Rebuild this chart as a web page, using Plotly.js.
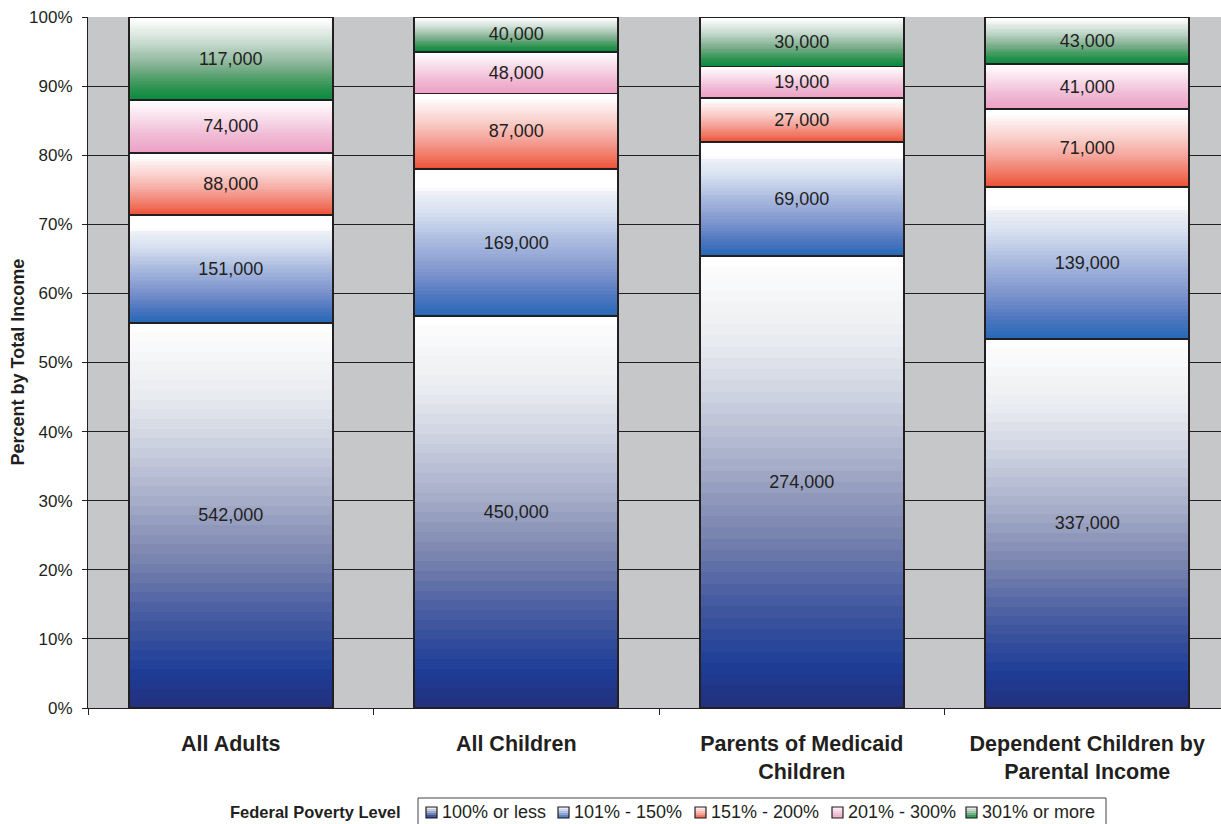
<!DOCTYPE html>
<html>
<head>
<meta charset="utf-8">
<script src="https://cdn.plot.ly/plotly-3.0.1.min.js"></script>
<style>html,body{margin:0;padding:0;background:#fff;}#chart{width:1221px;height:824px;}</style>
</head>
<body>
<div id="chart"></div>
<script>
// ---- data ----
const categories = ['All Adults', 'All Children', 'Parents of Medicaid<br>Children', 'Dependent Children by<br>Parental Income'];
const seriesNames = ['100% or less', '101% - 150%', '151% - 200%', '201% - 300%', '301% or more'];
const fpl100orLess = [542000, 450000, 274000, 337000];
const fpl101to150 = [151000, 169000, 69000, 139000];
const fpl151to200 = [88000, 87000, 27000, 71000];
const fpl201to300 = [74000, 48000, 19000, 41000];
const fpl301orMore = [117000, 40000, 30000, 43000];
const seriesValues = [fpl100orLess, fpl101to150, fpl151to200, fpl201to300, fpl301orMore];
const legendTitle = 'Federal Poverty Level';
const yTitle = 'Percent by Total Income';

// ---- styles: gradient stops (fraction from bottom of segment -> colour) ----
const gradients = [
  [[0, '#22307e'], [0.1, '#1f3e97'], [0.25, '#4a5ea2'], [0.4, '#7d87b0'], [0.55, '#a9b0cb'], [0.7, '#d0d5e2'], [0.82, '#eaecf0'], [0.92, '#f6f7f8'], [1, '#ffffff']],
  [[0, '#2569b5'], [0.12, '#4a74be'], [0.3, '#7e95cd'], [0.5, '#a8b9de'], [0.7, '#d6dff0'], [0.84, '#edf0f6'], [0.87, '#ffffff'], [1, '#ffffff']],
  [[0, '#ee4d33'], [0.15, '#f0735e'], [0.4, '#f5a69c'], [0.65, '#fad2cf'], [0.85, '#fcefee'], [0.93, '#ffffff'], [1, '#ffffff']],
  [[0, '#eca0c5'], [0.35, '#f1bcd6'], [0.65, '#f8dce9'], [0.88, '#fdf4f8'], [1, '#ffffff']],
  [[0, '#078b40'], [0.15, '#2c9350'], [0.4, '#7eaf8e'], [0.65, '#bfd6c8'], [0.85, '#e8efeb'], [0.94, '#fbfcfb'], [1, '#ffffff']]
];
const NSLICES = 40;
// layout positions (pixels in the figure)
const legendSymbolX = [426, 558, 695, 832, 966];
const legendBox = { left: 418, right: 1106, top: 798 };
const PLOT_L = 88, PLOT_W = 1133, PLOT_B = 708, PLOT_H = 691;
const px2x = px => (px - PLOT_L) / PLOT_W;
const px2y = py => (PLOT_B - py) / PLOT_H;

function hexToRgb(h) { return [parseInt(h.substr(1,2),16), parseInt(h.substr(3,2),16), parseInt(h.substr(5,2),16)]; }
function gradColor(stops, t) {
  for (let i = 1; i < stops.length; i++) {
    if (t <= stops[i][0]) {
      const a = stops[i-1], b = stops[i];
      const f = (t - a[0]) / (b[0] - a[0] || 1);
      const ca = hexToRgb(a[1]), cb = hexToRgb(b[1]);
      const c = ca.map((v, j) => Math.round(v + (cb[j] - v) * f));
      return 'rgb(' + c.join(',') + ')';
    }
  }
  return stops[stops.length-1][1];
}

const font = 'Liberation Sans, Arial, Helvetica, sans-serif';
const ink = '#231f20';
const traces = [];
// gradient slices (main axes)
seriesValues.forEach((vals, s) => {
  for (let k = 0; k < NSLICES; k++) {
    traces.push({
      type: 'bar', x: categories, y: vals.map(v => v / NSLICES), name: seriesNames[s],
      marker: { color: gradColor(gradients[s], (k + 0.5) / NSLICES), line: { width: 0 } },
      showlegend: false, hoverinfo: 'skip', xaxis: 'x', yaxis: 'y'
    });
  }
});
// outlines + value labels (overlay axes)
seriesValues.forEach((vals, s) => {
  traces.push({
    type: 'bar', x: categories, y: vals, name: seriesNames[s],
    text: vals.map(v => v.toLocaleString('en-US')),
    textposition: 'inside', insidetextanchor: 'middle', textangle: 0, constraintext: 'none',
    textfont: { family: font, size: 18, color: ink },
    marker: { color: 'rgba(0,0,0,0)', line: { color: ink, width: 1.8 } },
    showlegend: false, hoverinfo: 'skip', xaxis: 'x2', yaxis: 'y2'
  });
});

// manual legend (title outside a bordered box, small gradient squares)
const shapes = [{
  type: 'rect', xref: 'paper', yref: 'paper', layer: 'above',
  x0: px2x(legendBox.left), x1: px2x(legendBox.right), y0: px2y(legendBox.top), y1: px2y(840),
  line: { color: '#444', width: 1 }, fillcolor: 'rgba(0,0,0,0)'
}];
const annotations = [{
  text: legendTitle, xref: 'paper', yref: 'paper', x: px2x(403), xanchor: 'right',
  y: px2y(812), yanchor: 'middle', showarrow: false,
  font: { family: font, size: 16.5, color: ink, weight: 'bold' }
}, {
  text: yTitle, xref: 'paper', yref: 'paper', x: px2x(5), xanchor: 'left',
  y: 0.5, yanchor: 'middle', textangle: -90, showarrow: false,
  font: { family: font, size: 18, color: ink, weight: 'bold' }
}];
const SYM = 11, SYM_TOP = 807, BANDS = 6;
seriesNames.forEach((nm, s) => {
  const sx = legendSymbolX[s];
  for (let b = 0; b < BANDS; b++) {
    shapes.push({
      type: 'rect', xref: 'paper', yref: 'paper', layer: 'above',
      x0: px2x(sx), x1: px2x(sx + SYM),
      y0: px2y(SYM_TOP + SYM - b * SYM / BANDS), y1: px2y(SYM_TOP + SYM - (b + 1) * SYM / BANDS),
      line: { width: 0 }, fillcolor: gradColor(gradients[s], 0.05 + 0.75 * b / (BANDS - 1))
    });
  }
  shapes.push({
    type: 'rect', xref: 'paper', yref: 'paper', layer: 'above',
    x0: px2x(sx), x1: px2x(sx + SYM), y0: px2y(SYM_TOP + SYM), y1: px2y(SYM_TOP),
    line: { color: ink, width: 1.2 }, fillcolor: 'rgba(0,0,0,0)'
  });
  annotations.push({
    text: nm, xref: 'paper', yref: 'paper', x: px2x(sx + 14), xanchor: 'left',
    y: px2y(812), yanchor: 'middle', showarrow: false,
    font: { family: font, size: 18, color: ink }
  });
});

const xr = [-0.5, 3.4685];
const layout = {
  width: 1221, height: 824,
  margin: { l: PLOT_L, r: 0, t: 17, b: 824 - PLOT_B },
  paper_bgcolor: '#ffffff', plot_bgcolor: '#c6c7c9',
  barmode: 'stack', barnorm: 'percent', bargap: 0.285,
  font: { family: font, color: ink },
  showlegend: false,
  xaxis: {
    type: 'category', range: xr, automargin: false, showline: true, linecolor: ink, linewidth: 1,
    ticks: 'outside', tickson: 'boundaries', ticklen: 6, tickcolor: ink,
    showgrid: false, zeroline: false, ticklabelstandoff: 16,
    tickfont: { family: font, size: 21.5, color: ink, weight: 'bold' }
  },
  yaxis: {
    range: [0, 100], dtick: 10, ticksuffix: '%', automargin: false, showline: true, linecolor: ink, linewidth: 1,
    ticks: 'outside', ticklen: 5, tickcolor: ink, showgrid: true, gridcolor: ink, gridwidth: 1,
    zeroline: false, ticklabelstandoff: 6, tickfont: { family: font, size: 17, color: ink }
  },
  xaxis2: { type: 'category', overlaying: 'x', range: xr, visible: false },
  yaxis2: { overlaying: 'y', range: [0, 100], visible: false },
  shapes: shapes,
  annotations: annotations
};

Plotly.newPlot('chart', traces, layout, { displayModeBar: false, staticPlot: true });
</script>
</body>
</html>
